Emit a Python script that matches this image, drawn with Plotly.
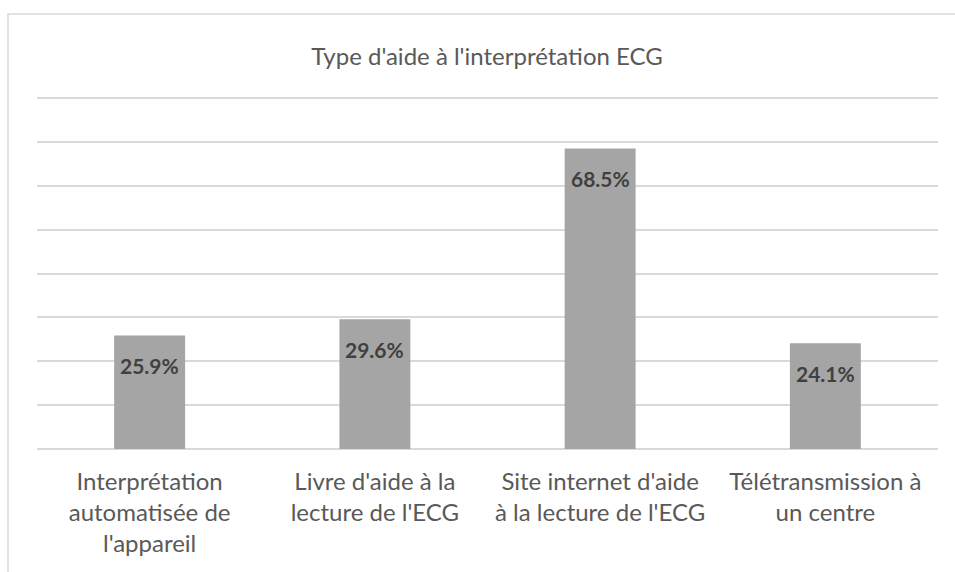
import plotly.graph_objs as go

categories = [
    "Interprétation<br>automatisée de<br>l'appareil",
    "Livre d'aide à la<br>lecture de l'ECG",
    "Site internet d'aide<br>à la lecture de l'ECG",
    "Télétransmission à<br>un centre",
]
values = [25.9, 29.6, 68.5, 24.1]
labels = ["25.9%", "29.6%", "68.5%", "24.1%"]
title_text = "Type d'aide à l'interprétation ECG"

FONT = "Lato"

# plot area in pixels: x 37..938, y 96..449 (80% gridline lands at y=98)
L, R, T, B = 37, 17, 96, 123
W, H = 955, 572
pw, ph = W - L - R, H - T - B

trace = go.Bar(x=categories, y=values,
               marker=dict(color='#a5a5a5', line=dict(width=0)),
               width=0.315,
               hoverinfo='skip')

fig = go.Figure(data=[trace])

# data labels sit a bit below the top of each bar
for cat, val, lab in zip(categories, values, labels):
    fig.add_annotation(x=cat, y=val, text="<b>" + lab + "</b>",
                       showarrow=False, yanchor='middle', yshift=-30,
                       font=dict(family=FONT, size=21, color='#404040'))

# chart border (cut off at right and bottom like the screenshot)
fig.add_shape(type='rect', xref='paper', yref='paper',
              x0=(8 - L) / pw, x1=(W + 20 - L) / pw,
              y0=(H - B - (H + 20)) / ph, y1=(H - B - 14) / ph,
              line=dict(color='#d9d9d9', width=1.5), layer='below')

fig['layout'].update(
    width=W, height=H,
    paper_bgcolor='white', plot_bgcolor='white',
    showlegend=False,
    title=dict(text=title_text, x=487 / W, xanchor='center',
               y=1 - 57 / H, yanchor='middle',
               font=dict(family=FONT, size=24, color='#595959')),
    margin=go.layout.Margin(l=L, r=R, t=T, b=B, pad=0),
    xaxis=dict(showgrid=False, showline=False, zeroline=False,
               ticks='', ticklabelstandoff=16,
               tickfont=dict(family=FONT, size=24, color='#595959')),
    yaxis=dict(range=[0, 80.5], dtick=10, showticklabels=False,
               showgrid=True, gridcolor='#d9d9d9', gridwidth=1.5,
               zeroline=True, zerolinecolor='#d9d9d9', zerolinewidth=1.5,
               showline=False, ticks=''),
)

fig.write_html("out.html", config={'displayModeBar': False},
               post_script="document.body.style.margin='0';")
